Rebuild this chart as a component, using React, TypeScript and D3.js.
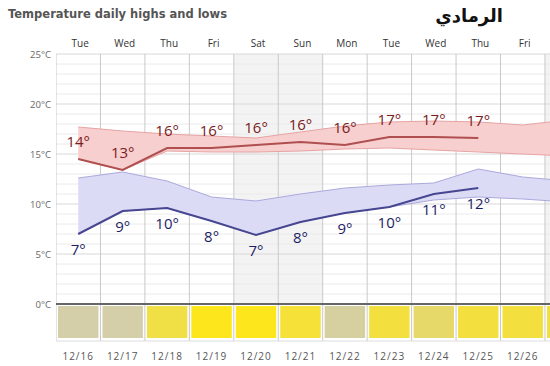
import * as d3 from 'd3';

const days = ['Tue', 'Wed', 'Thu', 'Fri', 'Sat', 'Sun', 'Mon', 'Tue', 'Wed', 'Thu', 'Fri', 'Sat'];
const dates = ['12/16', '12/17', '12/18', '12/19', '12/20', '12/21', '12/22', '12/23', '12/24', '12/25', '12/26', '12/27'];
const weekend = [false, false, false, false, true, true, false, false, false, false, false, true];

// forecast highs / lows (10 days)
const highs = [14.5, 13.4, 15.6, 15.6, 15.9, 16.2, 15.9, 16.7, 16.7, 16.6];
const lows = [7.0, 9.3, 9.6, 8.3, 6.9, 8.2, 9.1, 9.7, 11.0, 11.6];
const highLabels = [14, 13, 16, 16, 16, 16, 16, 17, 17, 17];
const lowLabels = [7, 9, 10, 8, 7, 8, 9, 10, 11, 12];

// spread bands (12 days, last one runs off the edge)
const highBandTop = [17.7, 17.3, 17.0, 16.8, 16.6, 17.2, 17.8, 18.2, 18.3, 18.2, 17.9, 18.4];
const highBandBottom = [14.5, 13.4, 15.3, 15.2, 15.2, 15.3, 15.5, 15.6, 15.4, 15.2, 15.0, 14.8];
const lowBandTop = [12.6, 13.2, 12.3, 10.7, 10.3, 11.0, 11.6, 11.9, 12.1, 13.5, 12.7, 12.3];
const lowBandBottom = [7.0, 9.3, 9.6, 8.3, 6.9, 8.2, 9.1, 9.7, 10.4, 10.7, 10.5, 10.2];

// sunshine index 0..1 for the bottom boxes
const sunshine = [0, 0, 0.7, 1, 1, 0.8, 0.05, 0.75, 0.45, 0.75, 0.75, 0.75];

const yTicks = [0, 5, 10, 15, 20, 25];

export default function App() {
  const W = 550;
  const H = 366;
  const left = 56;
  const colW = 44.45;
  const right = W;
  const top = 54;
  const zeroY = 304;

  const x = d3.scaleLinear().domain([0, 11]).range([left, left + colW * 11]);
  const y = d3.scaleLinear().domain([0, 25]).range([zeroY, top]);
  const cx = (i: number) => x(i + 0.5);
  const sunColor = d3.scaleLinear<string>().domain([0, 1]).range(['#d4cfa8', '#fde61c']);

  const area = d3.area<[number, number]>()
    .x((_, i) => cx(i))
    .y0(d => y(d[0]))
    .y1(d => y(d[1]));
  const line = d3.line<number>().x((_, i) => cx(i)).y(d => y(d));

  const highBand = highBandBottom.map((b, i) => [b, highBandTop[i]] as [number, number]);
  const lowBand = lowBandBottom.map((b, i) => [b, lowBandTop[i]] as [number, number]);

  const gridDeg = d3.range(1, 26);
  const boxTop = zeroY + 2;
  const boxBottom = 338;
  const gridBottom = 341;

  return (
    <svg width={W} height={H} style={{ position: 'absolute', left: 0, top: 0, background: '#fff' }}>
      <defs>
        <clipPath id="plot">
          <rect x={left} y={top - 2} width={right - left} height={gridBottom - top + 4} />
        </clipPath>
      </defs>

      <text x={8} y={18} fontFamily="DejaVu Sans" fontWeight="bold" fontSize={11.5} fill="#555">
        Temperature daily highs and lows
      </text>
      <text x={503} y={22} textAnchor="end" fontFamily="DejaVu Sans" fontWeight="bold" fontSize={18} fill="#111">
        الرمادي
      </text>

      <g clipPath="url(#plot)">
        {weekend.map((w, i) => w && (
          <rect key={i} x={x(i)} y={top} width={colW} height={zeroY - top} fill="#f3f3f3" />
        ))}
        {gridDeg.map(d => (
          <line key={d} x1={left} x2={right} y1={y(d)} y2={y(d)}
            stroke={d % 5 === 0 ? '#d8d8d8' : '#eaeaea'} strokeWidth={1} />
        ))}
        {d3.range(0, 13).map(i => (
          <line key={i} x1={x(i)} x2={x(i)} y1={top} y2={gridBottom} stroke="#c9c9c9" strokeWidth={1} />
        ))}
        <line x1={left} x2={right} y1={gridBottom} y2={gridBottom} stroke="#dddddd" />

        <path d={area(highBand) || ''} fill="#f8cfcf" stroke="none" />
        <path d={line(highBandTop) || ''} fill="none" stroke="#e6a3a3" strokeWidth={1} />
        <path d={line(highBandBottom) || ''} fill="none" stroke="#e6a3a3" strokeWidth={1} />
        <path d={area(lowBand) || ''} fill="#dcdbf5" stroke="none" />
        <path d={line(lowBandTop) || ''} fill="none" stroke="#aaa9dc" strokeWidth={1} />
        <path d={line(lowBandBottom) || ''} fill="none" stroke="#aaa9dc" strokeWidth={1} />

        <path d={line(highs) || ''} fill="none" stroke="#b04f4f" strokeWidth={2} />
        <path d={line(lows) || ''} fill="none" stroke="#464691" strokeWidth={2} />

        <line x1={left} x2={right} y1={zeroY} y2={zeroY} stroke="#666" strokeWidth={2} />
        {sunshine.map((s, i) => (
          <rect key={i} x={x(i) + 2} y={boxTop} width={colW - 4} height={boxBottom - boxTop} fill={sunColor(s)} />
        ))}
      </g>

      {yTicks.map(t => (
        <text key={t} x={51} y={y(t) + 4} textAnchor="end" fontFamily="Open Sans" fontSize={9.5} fill="#666">
          {t}°C
        </text>
      ))}

      {days.map((d, i) => cx(i) < right && (
        <text key={i} x={cx(i) + 2} y={47} textAnchor="middle" fontFamily="Open Sans" fontSize={10} fill="#333">
          {d}
        </text>
      ))}
      {dates.map((d, i) => cx(i) < right && (
        <text key={i} x={cx(i)} y={360} textAnchor="middle" fontFamily="Open Sans" fontSize={10}
          letterSpacing={1} fill="#555">
          {d}
        </text>
      ))}

      {highs.map((v, i) => (
        <text key={i} x={cx(i)} y={y(v) - 12} textAnchor="middle" fontFamily="Open Sans" fontSize={15} fill="#7a1c1c">
          {highLabels[i]}°
        </text>
      ))}
      {lows.map((v, i) => (
        <text key={i} x={cx(i)} y={y(v) + 21} textAnchor="middle" fontFamily="Open Sans" fontSize={15} fill="#1d1d66">
          {lowLabels[i]}°
        </text>
      ))}
    </svg>
  );
}
